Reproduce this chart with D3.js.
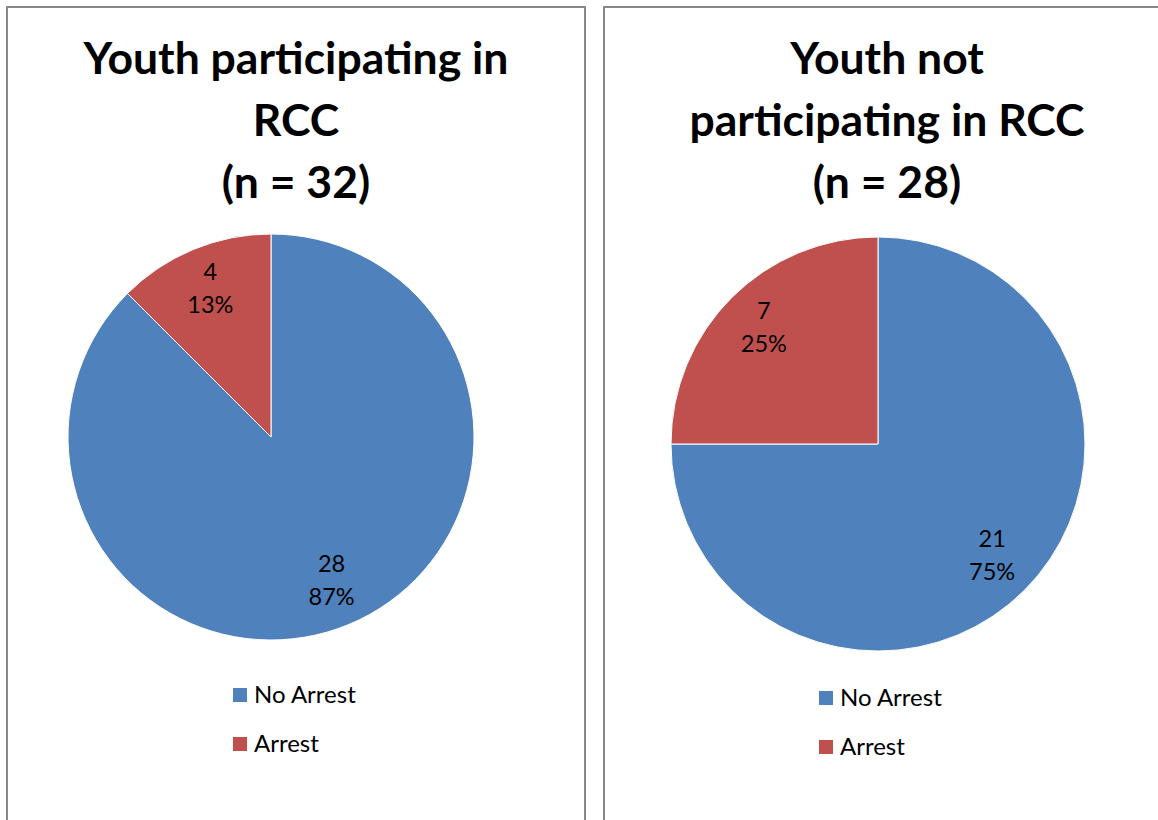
<!DOCTYPE html>
<html><head><meta charset="utf-8">
<script src="https://cdn.jsdelivr.net/npm/d3@7"></script>
<style>body{margin:0;background:#fff}svg{display:block}</style>
</head><body>
<script>
const categories = ["No Arrest", "Arrest"];
const colors = ["#4F81BD", "#C0504D"];
const participatingValues = [28, 4];
const participatingPercents = ["87%", "13%"];
const notParticipatingValues = [21, 7];
const notParticipatingPercents = ["75%", "25%"];
const titles = [
  ["Youth participating in", "RCC", "(n = 32)"],
  ["Youth not", "participating in RCC", "(n = 28)"]
];

const W = 1158, H = 820;
const svg = d3.select("body").append("svg").attr("width", W).attr("height", H);
const font = "Lato, 'Open Sans', sans-serif";

const panels = [
  {x: 7, w: 578, cx: 271, cy: 437, r: 203, tx: 296, values: participatingValues, pcts: participatingPercents, title: titles[0], lx: 233, ly: 695},
  {x: 604, w: 600, cx: 878, cy: 444, r: 207, tx: 887, values: notParticipatingValues, pcts: notParticipatingPercents, title: titles[1], lx: 819, ly: 698}
];

const color = d3.scaleOrdinal().domain(categories).range(colors);

panels.forEach(p => {
  svg.append("rect").attr("x", p.x).attr("y", 7).attr("width", p.w).attr("height", H + 20)
    .attr("fill", "#fff").attr("stroke", "#888").attr("stroke-width", 2);

  const t = svg.append("text").attr("text-anchor", "middle")
    .attr("font-family", font).attr("font-weight", "bold").attr("font-size", 44.5).attr("fill", "#000");
  p.title.forEach((line, i) => {
    t.append("tspan").attr("x", p.tx).attr("y", 74 + i * 62).text(line);
  });

  const data = categories.map((c, i) => ({cat: c, value: p.values[i], pct: p.pcts[i]}));
  const pie = d3.pie().sort(null).value(d => d.value);
  const arcs = pie(data);
  const arc = d3.arc().innerRadius(0).outerRadius(p.r);
  const labelArc = d3.arc().innerRadius(p.r * 0.78).outerRadius(p.r * 0.78);
  const g = svg.append("g").attr("transform", `translate(${p.cx},${p.cy})`);
  g.selectAll("path").data(arcs).enter().append("path")
    .attr("d", arc).attr("fill", d => color(d.data.cat))
    .attr("stroke", "#fff").attr("stroke-width", 1);
  g.selectAll("text.lbl").data(arcs).enter().append("text").attr("class", "lbl")
    .attr("text-anchor", "middle").attr("font-family", font).attr("font-size", 23.5).attr("fill", "#000")
    .each(function(d) {
      const [x, y] = labelArc.centroid(d);
      const s = d3.select(this);
      s.append("tspan").attr("x", x).attr("y", y - 11).text(d.data.value);
      s.append("tspan").attr("x", x).attr("y", y + 22).text(d.data.pct);
    });

  const lg = svg.append("g");
  categories.forEach((c, i) => {
    const y = p.ly + i * 49;
    lg.append("rect").attr("x", p.lx).attr("y", y - 7).attr("width", 14).attr("height", 14).attr("fill", color(c));
    lg.append("text").attr("x", p.lx + 21).attr("y", y + 8).attr("font-family", font).attr("font-size", 24)
      .attr("fill", "#000").text(c);
  });
});
</script>
</body></html>
